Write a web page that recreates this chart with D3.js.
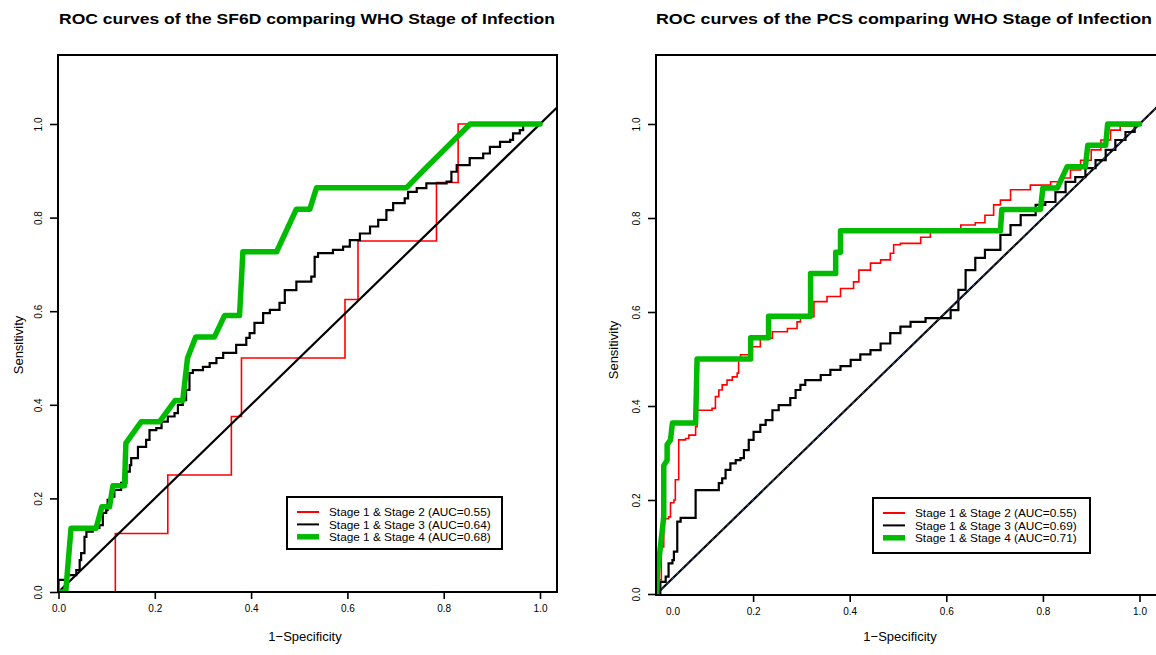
<!DOCTYPE html>
<html><head><meta charset="utf-8">
<script src="https://cdn.jsdelivr.net/npm/d3@7"></script>
<style>
body{margin:0;background:#fff}
text{font-family:"Liberation Sans",Arial,Helvetica,sans-serif;fill:#000}
</style>
</head><body>
<svg id="chart" width="1156" height="655"></svg>
<script>
// ---------------- DATA ----------------
const tickValues = [0, 0.2, 0.4, 0.6, 0.8, 1.0];
const tickLabels = ["0.0", "0.2", "0.4", "0.6", "0.8", "1.0"];
const titles = ["ROC curves of the SF6D comparing WHO Stage of Infection",
                "ROC curves of the PCS comparing WHO Stage of Infection"];
const xTitle = "1\u2212Specificity";
const yTitle = "Sensitivity";
const legendSF6D = ["Stage 1 & Stage 2 (AUC=0.55)", "Stage 1 & Stage 3 (AUC=0.64)", "Stage 1 & Stage 4 (AUC=0.68)"];
const legendPCS  = ["Stage 1 & Stage 2 (AUC=0.55)", "Stage 1 & Stage 3 (AUC=0.69)", "Stage 1 & Stage 4 (AUC=0.71)"];

// SF6D panel: [1-specificity, sensitivity]
const sf6dStage2 = [[0,0],[0.118,0],[0.118,0.125],[0.227,0.125],[0.227,0.25],[0.359,0.25],[0.359,0.375],
  [0.38,0.375],[0.38,0.5],[0.595,0.5],[0.595,0.625],[0.622,0.625],[0.622,0.75],[0.785,0.75],[0.785,0.875],
  [0.83,0.875],[0.83,1.0],[1,1]];
const sf6dStage3 = [[0,0],[0,0.026],[0.012,0.026],[0.016,0.036],[0.037,0.047],[0.044,0.068],[0.047,0.083],
  [0.054,0.118],[0.058,0.129],[0.071,0.137],[0.085,0.143],[0.092,0.169],[0.099,0.175],[0.102,0.197],
  [0.110,0.204],[0.116,0.218],[0.130,0.233],[0.141,0.257],[0.148,0.271],[0.151,0.286],[0.165,0.310],
  [0.182,0.325],[0.189,0.346],[0.203,0.350],[0.214,0.364],[0.227,0.375],[0.241,0.382],[0.248,0.400],
  [0.258,0.410],[0.265,0.432],[0.272,0.468],[0.279,0.474],[0.300,0.481],[0.314,0.489],[0.328,0.500],
  [0.342,0.511],[0.369,0.528],[0.390,0.543],[0.397,0.553],[0.407,0.575],[0.425,0.596],[0.439,0.603],
  [0.459,0.618],[0.470,0.645],[0.494,0.663],[0.508,0.663],[0.525,0.674],[0.532,0.716],[0.539,0.724],
  [0.570,0.731],[0.591,0.738],[0.605,0.752],[0.626,0.766],[0.647,0.781],[0.664,0.795],[0.681,0.816],
  [0.695,0.831],[0.719,0.841],[0.726,0.855],[0.744,0.863],[0.764,0.873],[0.806,0.877],[0.816,0.898],
  [0.827,0.912],[0.854,0.927],[0.882,0.937],[0.896,0.951],[0.917,0.962],[0.938,0.966],[0.944,0.980],
  [0.958,0.987],[0.965,1.0],[1,1]];
const sf6dStage4 = [[0,0],[0.015,0],[0.026,0.136],[0.078,0.136],[0.090,0.182],[0.106,0.182],[0.113,0.227],
  [0.137,0.227],[0.140,0.318],[0.172,0.364],[0.210,0.364],[0.242,0.409],[0.258,0.409],[0.268,0.5],
  [0.285,0.545],[0.324,0.545],[0.345,0.591],[0.376,0.591],[0.383,0.727],[0.453,0.727],[0.494,0.818],
  [0.522,0.818],[0.536,0.864],[0.723,0.864],[0.76,0.903],[0.855,1.0],[1,1]];

// PCS panel
const pcsStage2 = [[0,0],[0.005,0.03],[0.01,0.1],[0.015,0.16],[0.025,0.164],[0.029,0.194],[0.036,0.2],
  [0.039,0.243],[0.046,0.328],[0.060,0.331],[0.067,0.338],[0.081,0.356],[0.084,0.391],[0.115,0.395],
  [0.122,0.420],[0.129,0.434],[0.136,0.445],[0.146,0.455],[0.157,0.462],[0.167,0.470],[0.170,0.498],
  [0.174,0.509],[0.198,0.526],[0.215,0.544],[0.240,0.558],[0.271,0.565],[0.291,0.579],[0.298,0.590],
  [0.326,0.622],[0.353,0.633],[0.381,0.650],[0.408,0.664],[0.419,0.689],[0.443,0.704],[0.464,0.711],
  [0.484,0.725],[0.491,0.743],[0.505,0.746],[0.547,0.759],[0.567,0.770],[0.598,0.774],[0.630,0.785],
  [0.660,0.790],[0.680,0.806],[0.698,0.828],[0.712,0.838],[0.733,0.860],[0.774,0.870],[0.816,0.877],
  [0.836,0.885],[0.857,0.902],[0.878,0.923],[0.900,0.945],[0.920,0.966],[0.940,0.987],[0.960,0.996],
  [0.990,1.0],[1,1]];
const pcsStage3 = [[0,0],[0.008,0.026],[0.019,0.037],[0.025,0.065],[0.033,0.072],[0.036,0.09],[0.043,0.154],
  [0.050,0.162],[0.081,0.162],[0.081,0.221],[0.122,0.221],[0.129,0.236],[0.136,0.246],[0.143,0.264],
  [0.153,0.278],[0.164,0.285],[0.174,0.289],[0.181,0.306],[0.191,0.328],[0.201,0.345],[0.215,0.360],
  [0.226,0.370],[0.240,0.391],[0.253,0.402],[0.267,0.402],[0.277,0.417],[0.288,0.434],[0.298,0.445],
  [0.308,0.455],[0.329,0.455],[0.340,0.466],[0.360,0.477],[0.381,0.485],[0.402,0.498],[0.422,0.510],
  [0.443,0.519],[0.464,0.533],[0.484,0.555],[0.505,0.569],[0.526,0.579],[0.557,0.587],[0.588,0.587],
  [0.609,0.604],[0.625,0.647],[0.640,0.689],[0.660,0.715],[0.680,0.732],[0.712,0.764],[0.733,0.785],
  [0.754,0.806],[0.785,0.828],[0.805,0.834],[0.826,0.855],[0.847,0.877],[0.867,0.887],[0.888,0.906],
  [0.909,0.923],[0.930,0.945],[0.950,0.966],[0.971,0.983],[0.990,0.998],[1,1]];
const pcsStage4 = [[0,0],[0.002,0.045],[0.008,0.1],[0.012,0.136],[0.015,0.164],[0.015,0.273],[0.022,0.285],
  [0.022,0.318],[0.029,0.328],[0.033,0.364],[0.081,0.364],[0.084,0.5],[0.195,0.5],[0.195,0.545],
  [0.232,0.545],[0.232,0.591],[0.319,0.591],[0.319,0.682],[0.371,0.682],[0.371,0.727],[0.381,0.727],
  [0.381,0.773],[0.712,0.773],[0.715,0.818],[0.795,0.818],[0.800,0.864],[0.830,0.864],[0.850,0.909],
  [0.888,0.909],[0.893,0.955],[0.930,0.955],[0.934,1.0],[1,1]];

// ---------------- DRAW ----------------
const svg = d3.select("#chart");
const colors = ["#ff0000", "#000000", "#00bb00"];
const widths = [1.6, 2.2, 5.5];

const panels = [
  {title: titles[0], series: [sf6dStage2, sf6dStage3, sf6dStage4], legend: legendSF6D,
   box: {x0: 58, x1: 557, y0: 55, y1: 592}, xr: [58.5, 540], yr: [592, 124],
   titleX: 307, ytX: 18, ytY: 345, xtX: 305,
   leg: {x: 287, y: 497, w: 215, h: 52}, diagBlue: false, x0LabelShift: 0},
  {title: titles[1], series: [pcsStage2, pcsStage3, pcsStage4], legend: legendPCS,
   box: {x0: 656, x1: 1158, y0: 55, y1: 595}, xr: [656.5, 1139.5], yr: [594, 124],
   titleX: 904, ytX: 613, ytY: 350, xtX: 900,
   leg: {x: 873, y: 498, w: 217, h: 55}, diagBlue: true, x0LabelShift: 16}
];

panels.forEach((p, i) => {
  const g = svg.append("g");
  const x = d3.scaleLinear().domain([0, 1]).range(p.xr);
  const y = d3.scaleLinear().domain([0, 1]).range(p.yr);
  const b = p.box;

  const clipId = "clip" + i;
  svg.append("defs").append("clipPath").attr("id", clipId)
    .append("rect").attr("x", b.x0).attr("y", b.y0).attr("width", b.x1 - b.x0).attr("height", b.y1 - b.y0);

  const plot = g.append("g").attr("clip-path", `url(#${clipId})`);

  const lineLin = d3.line().x(d => x(d[0])).y(d => y(d[1]));
  const lineStep = d3.line().x(d => x(d[0])).y(d => y(d[1])).curve(d3.curveStepAfter);

  // red
  plot.append("path").datum(p.series[0])
    .attr("d", i === 0 ? lineLin : lineStep)
    .attr("fill", "none").attr("stroke", colors[0]).attr("stroke-width", widths[0]);
  // black
  plot.append("path").datum(p.series[1])
    .attr("d", lineStep)
    .attr("fill", "none").attr("stroke", colors[1]).attr("stroke-width", widths[1]);
  // diagonal reference
  const diag = [[0, 0], [1.1, 1.1]];
  plot.append("path").datum(diag).attr("d", lineLin)
    .attr("fill", "none").attr("stroke", "#000").attr("stroke-width", 2.2);
  if (p.diagBlue) {
    plot.append("path").datum(diag).attr("d", lineLin)
      .attr("fill", "none").attr("stroke", "#4a6fd0").attr("stroke-width", 0.8)
      .attr("stroke-dasharray", "3,4");
  }
  // green
  plot.append("path").datum(p.series[2])
    .attr("d", lineLin)
    .attr("fill", "none").attr("stroke", colors[2]).attr("stroke-width", widths[2])
    .attr("stroke-linejoin", "round").attr("stroke-linecap", "round");

  // box
  g.append("rect").attr("x", b.x0).attr("y", b.y0).attr("width", b.x1 - b.x0).attr("height", b.y1 - b.y0)
    .attr("fill", "none").attr("stroke", "#000").attr("stroke-width", 2);

  // x axis
  const xa = g.append("g").attr("transform", `translate(0,${b.y1})`)
    .call(d3.axisBottom(x).tickValues(tickValues).tickFormat((d, k) => tickLabels[k]).tickSize(7).tickPadding(6));
  xa.select(".domain").remove();
  xa.selectAll("line").attr("stroke-width", 1.6);
  xa.selectAll("text").attr("font-size", 10).style("font-family", '"Liberation Sans",Arial,sans-serif');
  if (p.x0LabelShift) {
    xa.selectAll(".tick").filter(d => d === 0).select("line").remove();
    xa.selectAll(".tick").filter(d => d === 0).select("text").attr("dx", p.x0LabelShift);
  }

  // y axis
  const ya = g.append("g").attr("transform", `translate(${b.x0},0)`)
    .call(d3.axisLeft(y).tickValues(tickValues).tickFormat((d, k) => tickLabels[k]).tickSize(8));
  ya.select(".domain").remove();
  ya.selectAll("line").attr("stroke-width", 1.6);
  ya.selectAll("text").attr("x", null).attr("dy", null)
    .attr("transform", "translate(-16,0) rotate(-90)").attr("text-anchor", "middle")
    .attr("font-size", 10).style("font-family", '"Liberation Sans",Arial,sans-serif');

  // titles
  g.append("text").attr("x", p.titleX).attr("y", 24).attr("text-anchor", "middle")
    .attr("font-size", 15.5).attr("font-weight", "bold")
    .attr("textLength", 496).attr("lengthAdjust", "spacingAndGlyphs").text(p.title);
  g.append("text").attr("x", p.xtX).attr("y", 641).attr("text-anchor", "middle")
    .attr("font-size", 13).text(xTitle);
  g.append("text").attr("transform", `translate(${p.ytX + 5},${p.ytY}) rotate(-90)`)
    .attr("text-anchor", "middle").attr("font-size", 13).text(yTitle);

  // legend
  const L = p.leg;
  const lg = g.append("g");
  lg.append("rect").attr("x", L.x).attr("y", L.y).attr("width", L.w).attr("height", L.h)
    .attr("fill", "#fff").attr("stroke", "#000").attr("stroke-width", 2);
  p.legend.forEach((t, k) => {
    const yy = L.y + 15 + k * 12.4;
    lg.append("line").attr("x1", L.x + 10).attr("x2", L.x + 32).attr("y1", yy).attr("y2", yy)
      .attr("stroke", colors[k]).attr("stroke-width", k === 2 ? 5.5 : 2);
    lg.append("text").attr("x", L.x + 42).attr("y", yy).attr("dy", "0.35em")
      .attr("font-size", 11.8).text(t);
  });
});
</script>
</body></html>
